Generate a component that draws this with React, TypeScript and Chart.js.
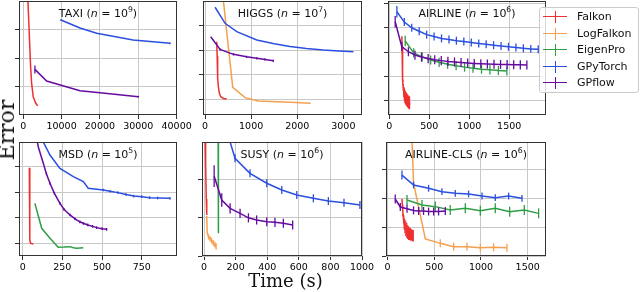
import React, { useEffect, useRef } from 'react';
import { Chart, registerables } from 'chart.js';
Chart.register(...registerables);

const NAMES = ['Falkon', 'LogFalkon', 'EigenPro', 'GPyTorch', 'GPflow'];
const COLORS = ['#f03030', '#f5a050', '#2e9e45', '#2b4fe0', '#660aa0'];

// ---------- TAXI (n = 10^9) ----------
const taxiXTicks = [0, 10000, 20000, 30000, 40000];
const taxiYTicks = [0.254, 0.5, 0.754];
const taxiFalkonX = [1000, 1230, 1570, 1930, 2190, 2610, 3240, 3760];
const taxiFalkonY = [1.3, 1.0, 0.72, 0.42, 0.28, 0.16, 0.105, 0.08];
const taxiGPyTorchX = [9840, 14800, 19160, 28640, 38300];
const taxiGPyTorchY = [0.833, 0.763, 0.717, 0.658, 0.629];
const taxiGPyTorchE = [0.008, 0, 0, 0, 0.008];
const taxiGPflowX = [3050, 6110, 14800, 20030, 30030];
const taxiGPflowY = [0.4, 0.298, 0.213, 0.196, 0.16];
const taxiGPflowE = [0.035, 0, 0, 0, 0.008];

// ---------- HIGGS (n = 10^7) ----------
const higgsXTicks = [0, 1000, 2000, 3000];
const higgsYTicks = [0.132, 0.351, 0.57, 0.789];
const higgsFalkonX = [253, 262, 268, 278, 289, 310, 340, 400, 470];
const higgsFalkonY = [0.643, 0.52, 0.424, 0.32, 0.248, 0.19, 0.16, 0.145, 0.14];
const higgsLogFalkonX = [360, 398, 600, 868, 1157, 1844, 2292];
const higgsLogFalkonY = [1.14, 1.0, 0.243, 0.152, 0.123, 0.111, 0.103];
const higgsGPyTorchX = [217, 434, 687, 1121, 1500, 1844, 2200, 2567, 2900, 3218];
const higgsGPyTorchY = [0.945, 0.804, 0.731, 0.658, 0.625, 0.6, 0.583, 0.57, 0.562, 0.555];
const higgsGPflowX = [123, 325, 615, 900, 1121, 1300, 1482];
const higgsGPflowY = [0.687, 0.576, 0.532, 0.51, 0.497, 0.487, 0.476];
const higgsGPflowE = [0, 0.01, 0.01, 0.01, 0.01, 0.01, 0.01];

// ---------- AIRLINE (n = 10^6) ----------
const airXTicks = [0, 500, 1000, 1500];
const airYTicks = [0.125, 0.338, 0.551, 0.764, 0.977];
const airFalkonX = [158, 161, 164, 167, 171, 177, 183, 189, 195, 201, 207, 213, 219, 225, 231, 237, 243, 249, 254];
const airFalkonY = [0.69, 0.6, 0.5, 0.4, 0.3, 0.24, 0.2, 0.18, 0.165, 0.155, 0.147, 0.14, 0.133, 0.127, 0.122, 0.117, 0.113, 0.109, 0.105];
const airFalkonE = [0, 0, 0, 0, 0.01, 0.03, 0.045, 0.05, 0.055, 0.055, 0.055, 0.055, 0.055, 0.055, 0.055, 0.055, 0.055, 0.055, 0.055];
const airEigenProX = [200, 306, 412, 518, 624, 730, 836, 942, 1048, 1154, 1259, 1365, 1471];
const airEigenProY = [0.65, 0.545, 0.51, 0.482, 0.462, 0.445, 0.432, 0.42, 0.41, 0.402, 0.396, 0.39, 0.386];
const airEigenProE = [0.045, 0.04, 0.04, 0.04, 0.04, 0.04, 0.04, 0.04, 0.04, 0.04, 0.04, 0.04, 0.04];
const airGPyTorchX = [96, 189, 282, 375, 468, 561, 654, 747, 840, 933, 1026, 1119, 1212, 1305, 1398, 1491, 1584, 1677, 1770, 1863];
const airGPyTorchY = [0.906, 0.815, 0.765, 0.735, 0.705, 0.688, 0.672, 0.662, 0.652, 0.645, 0.636, 0.628, 0.62, 0.612, 0.605, 0.598, 0.592, 0.585, 0.58, 0.576];
const airGPyTorchE = [0.05, 0.035, 0.035, 0.035, 0.035, 0.035, 0.035, 0.035, 0.035, 0.035, 0.035, 0.035, 0.035, 0.035, 0.035, 0.035, 0.035, 0.035, 0.035, 0.035];
const airGPflowX = [75, 157, 240, 322, 404, 487, 569, 651, 734, 816, 898, 981, 1063, 1145, 1227, 1310, 1392, 1474, 1556, 1639, 1721];
const airGPflowY = [0.818, 0.6, 0.555, 0.525, 0.508, 0.495, 0.485, 0.477, 0.47, 0.465, 0.46, 0.456, 0.452, 0.449, 0.447, 0.445, 0.443, 0.442, 0.441, 0.44, 0.439];
const airGPflowE = [0.05, 0.04, 0.04, 0.04, 0.04, 0.04, 0.04, 0.04, 0.04, 0.04, 0.04, 0.04, 0.04, 0.04, 0.04, 0.04, 0.04, 0.04, 0.04, 0.04, 0.04];

// ---------- MSD (n = 10^5) ----------
const msdXTicks = [0, 250, 500, 750];
const msdYTicks = [0.111, 0.335, 0.559, 0.783];
const msdFalkonX = [42, 44, 46, 50, 67];
const msdFalkonY = [0.775, 0.45, 0.14, 0.111, 0.105];
const msdEigenProX = [77, 120, 172, 224, 260, 298, 320, 340, 382];
const msdEigenProY = [0.462, 0.243, 0.155, 0.076, 0.078, 0.082, 0.072, 0.068, 0.073];
const msdGPyTorchX = [115, 130, 172, 235, 319, 382, 413, 508, 550, 600, 650, 700, 750, 800, 850, 928];
const msdGPyTorchY = [1.1, 1.0, 0.886, 0.769, 0.696, 0.652, 0.594, 0.579, 0.568, 0.556, 0.54, 0.526, 0.52, 0.512, 0.509, 0.506];
const msdGPyTorchE = [0, 0, 0, 0, 0, 0, 0, 0.012, 0.012, 0.012, 0.012, 0.012, 0.012, 0.012, 0.012, 0.012];
const msdGPflowX = [80, 100, 130, 150, 172, 200, 235, 260, 298, 330, 360, 382, 410, 440, 466, 500, 529];
const msdGPflowY = [1.08, 0.95, 0.813, 0.72, 0.638, 0.55, 0.462, 0.41, 0.36, 0.325, 0.3, 0.287, 0.272, 0.26, 0.249, 0.24, 0.234];
const msdGPflowE = [0, 0, 0, 0.012, 0.012, 0.012, 0.012, 0.012, 0.012, 0.012, 0.012, 0.012, 0.012, 0.012, 0.012, 0.012, 0.012];

// ---------- SUSY (n = 10^6) ----------
const susyXTicks = [0, 200, 400, 600, 800, 1000];
const susyYTicks = [0, 0.336, 0.673];
const susyFalkonX = [6, 10, 14, 17];
const susyFalkonY = [1.1, 0.8, 0.5, 0.36];
const susyLogFalkonX = [17, 20, 28, 38, 48, 58, 68, 76];
const susyLogFalkonY = [0.35, 0.2, 0.17, 0.15, 0.135, 0.115, 0.1, 0.085];
const susyLogFalkonE = [0, 0, 0.025, 0.025, 0.025, 0.025, 0.025, 0.03];
const susyEigenProX = [89, 91];
const susyEigenProY = [1.1, 0.2];
const susyGPyTorchX = [150, 196, 291, 397, 492, 587, 692, 787, 886, 987];
const susyGPyTorchY = [1.07, 0.857, 0.725, 0.638, 0.579, 0.535, 0.506, 0.482, 0.468, 0.447];
const susyGPyTorchE = [0, 0.035, 0.035, 0.035, 0.035, 0.035, 0.035, 0.035, 0.035, 0.035];
const susyGPflowX = [64, 112, 165, 228, 281, 333, 397, 449, 502, 561];
const susyGPflowY = [0.7, 0.491, 0.418, 0.374, 0.335, 0.316, 0.301, 0.295, 0.287, 0.272];
const susyGPflowE = [0.095, 0.06, 0.045, 0.04, 0.04, 0.04, 0.04, 0.04, 0.04, 0.04];

// ---------- AIRLINE-CLS (n = 10^6) ----------
const clsXTicks = [0, 500, 1000, 1500];
const clsYTicks = [0, 0.252, 0.504, 0.756];
const clsFalkonX = [154, 158, 162, 166, 171, 178, 186, 195, 205, 215, 225, 235, 245, 255, 265, 275];
const clsFalkonY = [0.5, 0.45, 0.4, 0.36, 0.32, 0.28, 0.26, 0.24, 0.225, 0.21, 0.2, 0.195, 0.19, 0.185, 0.18, 0.177];
const clsFalkonE = [0, 0, 0, 0.01, 0.03, 0.05, 0.06, 0.065, 0.065, 0.06, 0.06, 0.055, 0.055, 0.05, 0.05, 0.05];
const clsLogFalkonX = [250, 262, 278, 404, 564, 707, 850, 993, 1135, 1278];
const clsLogFalkonY = [1.2, 1.0, 0.64, 0.15, 0.111, 0.082, 0.082, 0.073, 0.076, 0.073];
const clsLogFalkonE = [0, 0, 0, 0, 0.035, 0.035, 0.035, 0.035, 0.035, 0.035];
const clsEigenProX = [208, 368, 511, 671, 832, 993, 1153, 1307, 1464, 1617];
const clsEigenProY = [0.491, 0.447, 0.433, 0.404, 0.418, 0.397, 0.418, 0.389, 0.404, 0.374];
const clsEigenProE = [0.044, 0.044, 0.044, 0.044, 0.044, 0.044, 0.044, 0.044, 0.044, 0.044];
const clsGPyTorchX = [154, 278, 439, 582, 725, 867, 1011, 1153, 1296, 1439];
const clsGPyTorchY = [0.71, 0.623, 0.594, 0.564, 0.55, 0.544, 0.526, 0.512, 0.526, 0.506];
const clsGPyTorchE = [0.04, 0.03, 0.03, 0.03, 0.03, 0.03, 0.03, 0.03, 0.03, 0.03];
const clsGPflowX = [82, 136, 208, 278, 332, 385, 439, 493, 546, 618];
const clsGPflowY = [0.5, 0.43, 0.415, 0.4, 0.395, 0.395, 0.39, 0.39, 0.39, 0.395];
const clsGPflowE = [0.04, 0.035, 0.035, 0.035, 0.035, 0.035, 0.035, 0.035, 0.035, 0.035];

type S = { k: number; x: number[]; y: number[]; e?: number[] };
type P = { title: string; exp: string; xMin: number; xMax: number; xTicks: number[]; yTicks: number[]; series: S[] };

const PANELS: P[] = [
  { title: 'TAXI', exp: '9', xMin: -1100, xMax: 40100, xTicks: taxiXTicks, yTicks: taxiYTicks, series: [
    { k: 0, x: taxiFalkonX, y: taxiFalkonY },
    { k: 3, x: taxiGPyTorchX, y: taxiGPyTorchY, e: taxiGPyTorchE },
    { k: 4, x: taxiGPflowX, y: taxiGPflowY, e: taxiGPflowE },
  ] },
  { title: 'HIGGS', exp: '7', xMin: -45, xMax: 3405, xTicks: higgsXTicks, yTicks: higgsYTicks, series: [
    { k: 0, x: higgsFalkonX, y: higgsFalkonY },
    { k: 1, x: higgsLogFalkonX, y: higgsLogFalkonY },
    { k: 3, x: higgsGPyTorchX, y: higgsGPyTorchY },
    { k: 4, x: higgsGPflowX, y: higgsGPflowY, e: higgsGPflowE },
  ] },
  { title: 'AIRLINE', exp: '6', xMin: -15, xMax: 1960, xTicks: airXTicks, yTicks: airYTicks, series: [
    { k: 0, x: airFalkonX, y: airFalkonY, e: airFalkonE },
    { k: 2, x: airEigenProX, y: airEigenProY, e: airEigenProE },
    { k: 3, x: airGPyTorchX, y: airGPyTorchY, e: airGPyTorchE },
    { k: 4, x: airGPflowX, y: airGPflowY, e: airGPflowE },
  ] },
  { title: 'MSD', exp: '5', xMin: -23, xMax: 972, xTicks: msdXTicks, yTicks: msdYTicks, series: [
    { k: 0, x: msdFalkonX, y: msdFalkonY },
    { k: 2, x: msdEigenProX, y: msdEigenProY },
    { k: 3, x: msdGPyTorchX, y: msdGPyTorchY, e: msdGPyTorchE },
    { k: 4, x: msdGPflowX, y: msdGPflowY, e: msdGPflowE },
  ] },
  { title: 'SUSY', exp: '6', xMin: -13, xMax: 1000, xTicks: susyXTicks, yTicks: susyYTicks, series: [
    { k: 0, x: susyFalkonX, y: susyFalkonY },
    { k: 1, x: susyLogFalkonX, y: susyLogFalkonY, e: susyLogFalkonE },
    { k: 2, x: susyEigenProX, y: susyEigenProY },
    { k: 3, x: susyGPyTorchX, y: susyGPyTorchY, e: susyGPyTorchE },
    { k: 4, x: susyGPflowX, y: susyGPflowY, e: susyGPflowE },
  ] },
  { title: 'AIRLINE-CLS', exp: '6', xMin: -17, xMax: 1696, xTicks: clsXTicks, yTicks: clsYTicks, series: [
    { k: 0, x: clsFalkonX, y: clsFalkonY, e: clsFalkonE },
    { k: 1, x: clsLogFalkonX, y: clsLogFalkonY, e: clsLogFalkonE },
    { k: 2, x: clsEigenProX, y: clsEigenProY, e: clsEigenProE },
    { k: 3, x: clsGPyTorchX, y: clsGPyTorchY, e: clsGPyTorchE },
    { k: 4, x: clsGPflowX, y: clsGPflowY, e: clsGPflowE },
  ] },
];

// plot-area rectangles [left, top, right, bottom] in page pixels
const RECTS: [number, number, number, number][] = [
  [19, 1, 177, 115], [203, 1, 362, 115], [388, 1, 546, 115],
  [19, 142, 177, 256], [202, 142, 362, 256], [386, 142, 546, 256],
];

const SPINE = '#333333';
const GRID = '#c8c8c8';
const FONT = 'DejaVu Sans';

function Panel({ p, rect }: { p: P; rect: [number, number, number, number] }) {
  const ref = useRef<HTMLCanvasElement>(null);
  const [L, T, R, B] = rect;
  const padT = T < 10 ? T : 4;
  const padR = 26, yW = 8, xH = 20;
  const left = L - yW, top = T - padT, w = R - L + yW + padR, h = padT + (B - T) + xH;

  useEffect(() => {
    const deco = {
      id: 'deco',
      afterDatasetDraw(chart: any, args: any) {
        const ds = chart.data.datasets[args.index];
        if (!ds.errs) return;
        const { ctx, chartArea: a, scales } = chart;
        ctx.save();
        ctx.beginPath();
        ctx.rect(a.left, a.top, a.right - a.left, a.bottom - a.top);
        ctx.clip();
        ctx.strokeStyle = ds.borderColor;
        ctx.lineWidth = 1.3;
        ds.data.forEach((pt: any, i: number) => {
          const e = ds.errs[i];
          if (!e) return;
          const px = scales.x.getPixelForValue(pt.x);
          ctx.beginPath();
          ctx.moveTo(px, scales.y.getPixelForValue(pt.y - e));
          ctx.lineTo(px, scales.y.getPixelForValue(pt.y + e));
          ctx.stroke();
        });
        ctx.restore();
      },
      afterDraw(chart: any) {
        const { ctx, chartArea: a } = chart;
        ctx.save();
        ctx.strokeStyle = SPINE;
        ctx.lineWidth = 1;
        ctx.strokeRect(a.left + 0.5, a.top + 0.5, a.right - a.left - 1, a.bottom - a.top - 1);
        const fs = 11;
        const segs = [
          { t: p.title + ' (', f: `${fs}px "${FONT}"`, dy: 0 },
          { t: 'n', f: `italic ${fs}px "${FONT}"`, dy: 0 },
          { t: ' = 10', f: `${fs}px "${FONT}"`, dy: 0 },
          { t: p.exp, f: `${fs * 0.7}px "${FONT}"`, dy: -fs * 0.42 },
          { t: ')', f: `${fs}px "${FONT}"`, dy: 0 },
        ];
        let total = 0;
        const ws = segs.map((s) => { ctx.font = s.f; const m = ctx.measureText(s.t).width; total += m; return m; });
        let x = (a.left + a.right) / 2 - total / 2;
        const base = a.top + 16;
        ctx.fillStyle = '#111111';
        ctx.textBaseline = 'alphabetic';
        ctx.textAlign = 'left';
        segs.forEach((s, i) => { ctx.font = s.f; ctx.fillText(s.t, x, base + s.dy); x += ws[i]; });
        ctx.restore();
      },
    };

    const grid = { color: GRID, lineWidth: 1, drawTicks: true, tickLength: 4, tickColor: SPINE, tickWidth: 1 };
    const chart = new Chart(ref.current as HTMLCanvasElement, {
      type: 'line',
      data: {
        datasets: p.series.map((s) => ({
          label: NAMES[s.k],
          data: s.x.map((x, i) => ({ x, y: s.y[i] })),
          borderColor: COLORS[s.k],
          backgroundColor: COLORS[s.k],
          borderWidth: 1.5,
          pointRadius: 0,
          fill: false,
          tension: 0,
          order: 5 - s.k,
          errs: s.e,
        })) as any,
      },
      options: {
        responsive: false,
        animation: false,
        events: [],
        layout: { padding: { left: 0, top: padT, right: padR, bottom: 0 } },
        plugins: { legend: { display: false }, tooltip: { enabled: false }, title: { display: false } },
        scales: {
          x: {
            type: 'linear', min: p.xMin, max: p.xMax,
            afterBuildTicks: (ax: any) => { ax.ticks = p.xTicks.map((v) => ({ value: v })); },
            afterFit: (ax: any) => { ax.height = xH; ax.paddingLeft = 0; ax.paddingRight = 0; },
            grid, border: { display: false },
            ticks: { font: { family: FONT, size: 9.5 }, color: '#000000', padding: 2, maxRotation: 0, autoSkip: false, callback: (v: any) => String(v) },
          },
          y: {
            type: 'linear', min: 0, max: 1,
            afterBuildTicks: (ax: any) => { ax.ticks = p.yTicks.map((v) => ({ value: v })); },
            afterFit: (ax: any) => { ax.width = yW; ax.paddingTop = 0; ax.paddingBottom = 0; },
            grid, border: { display: false },
            ticks: { display: false },
          },
        },
      } as any,
      plugins: [deco as any],
    });
    return () => chart.destroy();
  }, []);

  return <canvas ref={ref} width={w} height={h} style={{ position: 'absolute', left, top, width: w, height: h }} />;
}

function Legend() {
  return (
    <div style={{ position: 'absolute', left: 539, top: 7, width: 100, height: 86, boxSizing: 'border-box', background: 'rgba(255,255,255,0.8)', border: '1px solid #cccccc', borderRadius: 3 }}>
      {NAMES.map((n, i) => (
        <div key={n} style={{ position: 'absolute', left: 0, top: 1 + i * 16.5, width: 98, height: 16 }}>
          <div style={{ position: 'absolute', left: 3, top: 7.25, width: 24, height: 0, borderTop: `1.5px solid ${COLORS[i]}` }} />
          <div style={{ position: 'absolute', left: 14.5, top: 2, width: 0, height: 12, borderLeft: `1.3px solid ${COLORS[i]}` }} />
          <span style={{ position: 'absolute', left: 37, top: 0, fontFamily: FONT, fontSize: 11, lineHeight: '16px', color: '#111111', whiteSpace: 'nowrap' }}>{n}</span>
        </div>
      ))}
    </div>
  );
}

export default function App() {
  return (
    <div style={{ position: 'fixed', left: 0, top: 0, width: 640, height: 292, background: '#ffffff', overflow: 'hidden' }}>
      {PANELS.map((p, i) => <Panel key={p.title} p={p} rect={RECTS[i]} />)}
      <Legend />
      <div style={{ position: 'absolute', left: 7, top: 130, transform: 'translate(-50%, -50%) rotate(-90deg)', fontFamily: 'DejaVu Serif', fontSize: 22, lineHeight: 1, whiteSpace: 'nowrap', color: '#111111' }}>Error</div>
      <div style={{ position: 'absolute', left: 285.5, top: 280.5, transform: 'translate(-50%, -50%)', fontFamily: 'DejaVu Serif', fontSize: 18, lineHeight: 1, whiteSpace: 'nowrap', color: '#111111' }}>Time (s)</div>
    </div>
  );
}
